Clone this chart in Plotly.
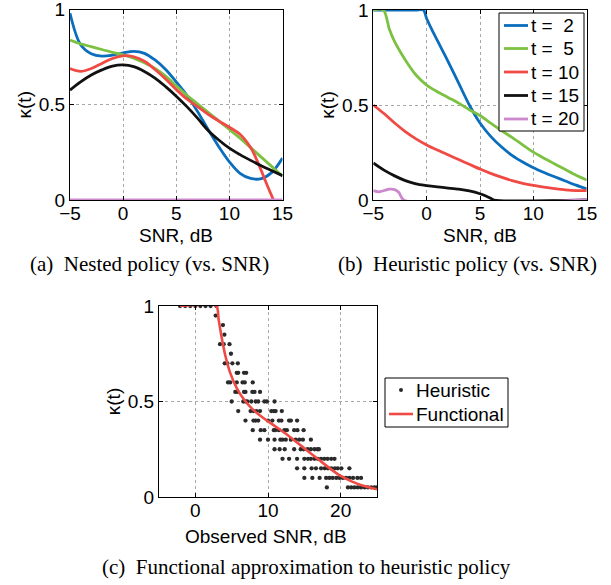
import plotly.graph_objects as go

# ---------------- Panel (a): nested policy vs SNR ----------------
snr_a = [-5, -4, -3, -2, -1, 0, 1, 2, 3, 4, 5, 6, 7, 8, 9, 10, 11, 12, 13, 14, 15]
nested_t2 = [0.98, 0.815, 0.768, 0.755, 0.76, 0.772, 0.78, 0.77, 0.735, 0.685, 0.62, 0.55,
             0.465, 0.37, 0.28, 0.2, 0.14, 0.113, 0.112, 0.145, 0.22]
nested_t5 = [0.84, 0.82, 0.805, 0.79, 0.775, 0.762, 0.745, 0.72, 0.69, 0.65, 0.6, 0.55,
             0.505, 0.46, 0.415, 0.37, 0.325, 0.275, 0.225, 0.175, 0.125]
snr_a_t10 = [-5, -4, -3, -2, -1, 0, 1, 2, 3, 4, 5, 6, 7, 8, 9, 10, 11, 12, 12.5, 13, 13.5, 14.15]
nested_t10 = [0.69, 0.675, 0.69, 0.717, 0.743, 0.757, 0.752, 0.728, 0.685, 0.635, 0.58, 0.53,
              0.49, 0.45, 0.415, 0.382, 0.345, 0.275, 0.22, 0.155, 0.085, 0.0]
nested_t15 = [0.577, 0.62, 0.656, 0.683, 0.703, 0.709, 0.7, 0.675, 0.64, 0.595, 0.545, 0.49,
              0.43, 0.365, 0.315, 0.272, 0.238, 0.208, 0.18, 0.154, 0.128]
nested_t20 = [0, 0, 0, 0, 0, 0, 0, 0, 0, 0, 0, 0, 0, 0, 0, 0, 0, 0, 0, 0, 0]

# ---------------- Panel (b): heuristic policy vs SNR ----------------
snr_b_t2 = [-5, -3, -1, -0.3, 0, 0.5, 1, 1.5, 2, 3, 4, 5, 6, 7, 8, 9, 10, 11, 12, 13, 14, 15]
heur_t2 = [1, 1, 1, 1, 0.955, 0.895, 0.84, 0.785, 0.73, 0.615, 0.5, 0.405, 0.335, 0.28,
           0.235, 0.2, 0.17, 0.145, 0.122, 0.1, 0.078, 0.058]
snr_b_t5 = [-5, -4.05, -3.5, -3, -2, -1, 0, 1, 2, 3, 4, 5, 6, 7, 8, 9, 10, 11, 12, 13, 14, 15]
heur_t5 = [1, 1, 0.9, 0.833, 0.737, 0.658, 0.605, 0.57, 0.54, 0.51, 0.475, 0.445, 0.405,
           0.365, 0.33, 0.29, 0.252, 0.22, 0.19, 0.16, 0.13, 0.105]
snr_b = [-5, -4, -3, -2, -1, 0, 1, 2, 3, 4, 5, 6, 7, 8, 9, 10, 11, 12, 13, 14, 15]
heur_t10 = [0.5, 0.455, 0.405, 0.36, 0.322, 0.29, 0.263, 0.238, 0.213, 0.188, 0.163, 0.14,
            0.12, 0.102, 0.088, 0.077, 0.068, 0.06, 0.053, 0.049, 0.05]
snr_b_t15 = [-5, -4, -3, -2, -1, 0, 1, 2, 3, 4, 5, 5.5, 6, 6.3, 15]
heur_t15 = [0.195, 0.157, 0.127, 0.102, 0.085, 0.076, 0.069, 0.063, 0.057, 0.048, 0.033,
            0.022, 0.009, 0.0, 0.0]
snr_b_t20 = [-5, -4.5, -4, -3.5, -3, -2.6, -2.15, 15]
heur_t20 = [0.049, 0.043, 0.05, 0.057, 0.055, 0.04, 0.0, 0.0]

legend_labels = ["t = \u00a02", "t = \u00a05", "t = 10", "t = 15", "t = 20"]
colors = ["#0A6EBD", "#7DC142", "#F04A45", "#111111", "#CC88CC"]

# ---------------- Panel (c): heuristic points + functional fit ----------------
heur_obs_snr = [
    -2.1, -1.4, -0.7, 0.0, 0.7, 1.4, 2.1, 2.9,
    2.8,
    3.8,
    4.0,
    3.4, 3.9, 4.7,
    4.9,
    4.05, 4.4, 5.1, 5.85,
    5.7, 5.9, 6.7, 7.0,
    4.5, 4.8, 5.7, 6.5, 6.8, 7.9,
    5.5, 5.8, 6.7, 6.9, 7.85, 8.15, 8.9,
    5.0, 6.6, 6.9, 7.15, 7.7, 8.3, 8.65, 9.5, 9.85, 10.9,
    5.9, 7.6, 8.0, 8.4, 8.9, 10.45, 10.8, 11.05, 11.9,
    6.9, 8.0, 8.3, 8.65, 10.0, 10.6, 11.5, 11.85, 12.9, 13.15, 14.0,
    7.9, 9.0, 9.5, 10.8, 11.0, 11.5, 12.25, 12.6, 13.6, 14.05, 14.9,
    8.9, 10.0, 10.9, 11.7, 12.0, 12.45, 13.15, 13.8, 14.3, 14.8, 15.9,
    10.9, 11.6, 12.3, 13.6, 14.5, 14.9, 15.45, 15.9, 16.4, 16.8, 17.0,
    12.0, 12.9, 14.0, 15.0, 15.5, 15.9, 16.4, 16.85, 17.3, 17.75, 18.2, 18.7, 19.15,
    14.0, 15.0, 16.0, 16.6, 17.3, 17.8, 18.25, 18.7, 19.2, 19.6, 20.1, 21.2,
    15.0, 16.1, 17.1, 18.0, 18.45, 18.9, 19.4, 19.85, 20.3, 20.75, 21.2, 21.7, 22.3, 22.8,
    18.1, 21.0, 21.45, 21.9, 22.35, 22.8, 23.3, 23.75, 24.2, 24.65, 25.0,
]
heur_obs_kappa = (
    [1.0] * 8 + [0.95] * 1 + [0.9] * 1 + [0.85] * 1 + [0.8] * 3 + [0.75] * 1 +
    [0.7] * 4 + [0.65] * 4 + [0.6] * 6 + [0.55] * 7 + [0.5] * 10 + [0.45] * 9 +
    [0.4] * 11 + [0.35] * 11 + [0.3] * 11 + [0.25] * 11 + [0.2] * 13 + [0.15] * 12 +
    [0.1] * 14 + [0.05] * 11
)
func_snr = [-2.1, 2.9, 3.2, 3.6, 4.1, 4.8, 5.7, 6.8, 8.0, 9.5, 11.0, 12.5, 14.0, 15.5,
            17.0, 18.5, 20.0, 21.5, 23.0, 25.0]
func_kappa = [1.0, 1.0, 0.93, 0.84, 0.745, 0.65, 0.57, 0.505, 0.455, 0.41, 0.37, 0.33,
              0.285, 0.24, 0.195, 0.15, 0.11, 0.082, 0.06, 0.04]
legend_c_labels = ["Heuristic", "Functional"]

W, H = 611, 585
SANS = "Liberation Sans, Arial, sans-serif"
SERIF = "Liberation Serif, Times New Roman, serif"
FS = 19
LW = 2.8
RED_C = "#F04A45"


def PX(px):
    return px / W


def PY(py):
    return 1 - py / H


fig = go.Figure()

# panel (a)
a_x = [snr_a, snr_a, snr_a_t10, snr_a, snr_a]
a_y = [nested_t2, nested_t5, nested_t10, nested_t15, nested_t20]
for i in range(5):
    fig.add_trace(go.Scatter(x=a_x[i], y=a_y[i], mode="lines", xaxis="x", yaxis="y",
                             name=legend_labels[i],
                             line=dict(color=colors[i], width=LW, shape="spline", smoothing=1.0),
                             showlegend=False, hoverinfo="skip"))

# panel (b)
b_x = [snr_b_t2, snr_b_t5, snr_b, snr_b_t15, snr_b_t20]
b_y = [heur_t2, heur_t5, heur_t10, heur_t15, heur_t20]
for i in range(5):
    fig.add_trace(go.Scatter(x=b_x[i], y=b_y[i], mode="lines", xaxis="x2", yaxis="y2",
                             name=legend_labels[i],
                             line=dict(color=colors[i], width=LW, shape="spline", smoothing=0.8),
                             showlegend=False, hoverinfo="skip"))

# panel (c)
fig.add_trace(go.Scatter(x=heur_obs_snr, y=heur_obs_kappa, mode="markers", xaxis="x3", yaxis="y3",
                         name=legend_c_labels[0], showlegend=False,
                         marker=dict(symbol="circle", size=4.3, color="#2a2a2a"),
                         hoverinfo="skip"))
fig.add_trace(go.Scatter(x=func_snr, y=func_kappa, mode="lines", xaxis="x3", yaxis="y3",
                         name=legend_c_labels[1], showlegend=False,
                         line=dict(color=RED_C, width=2.6, shape="spline", smoothing=0.6),
                         hoverinfo="skip"))

axis_common = dict(showline=True, linecolor="black", linewidth=1, mirror="ticks",
                   ticks="inside", ticklen=4, tickcolor="black", automargin=False,
                   ticklabeloverflow="allow",
                   showgrid=True, gridcolor="#a8a8a8", griddash="dot", gridwidth=1,
                   zeroline=False, tickfont=dict(family=SANS, size=FS, color="black"),
                   title_font=dict(family=SANS, size=FS, color="black"))
xaxis_extra = dict(ticklabelstandoff=-4)

fig.update_layout(
    width=W, height=H, margin=dict(l=0, r=0, t=0, b=0, autoexpand=False),
    paper_bgcolor="white", plot_bgcolor="white", showlegend=False,
    xaxis=dict(axis_common, **xaxis_extra, domain=[PX(70), PX(282.5)], range=[-5, 15],
               anchor="y", tickvals=[-5, 0, 5, 10, 15]),
    yaxis=dict(axis_common, domain=[PY(200), PY(9.5)], range=[0, 1], anchor="x",
               tickvals=[0, 0.5, 1], ticktext=["0", "0.5", "1"],
               title=dict(text="κ(t)", standoff=2)),
    xaxis2=dict(axis_common, **xaxis_extra, domain=[PX(373.3), PX(586.7)], range=[-5, 15],
                anchor="y2", tickvals=[-5, 0, 5, 10, 15]),
    yaxis2=dict(axis_common, domain=[PY(200), PY(10)], range=[0, 1], anchor="x2",
                tickvals=[0, 0.5, 1], ticktext=["0", "0.5", "1"],
                title=dict(text="κ(t)", standoff=2)),
    xaxis3=dict(axis_common, **xaxis_extra, domain=[PX(159), PX(377)], range=[-5, 25],
                anchor="y3", tickvals=[0, 10, 20]),
    yaxis3=dict(axis_common, domain=[PY(497), PY(306)], range=[0, 1], anchor="x3",
                tickvals=[0, 0.5, 1], ticktext=["0", "0.5", "1"],
                title=dict(text="κ(t)", standoff=2)),
)

# x-axis titles, placed as in the reference
for text, cx, cy in [("SNR, dB", 176, 235), ("SNR, dB", 480, 235),
                     ("Observed SNR, dB", 266, 536)]:
    fig.add_annotation(text=text, x=PX(cx), y=PY(cy), xref="paper", yref="paper",
                       xanchor="center", yanchor="middle", showarrow=False,
                       font=dict(family=SANS, size=FS, color="black"))

# ---- legend of panel (b): MATLAB-style box ----
fig.add_shape(type="rect", xref="paper", yref="paper", x0=PX(499), x1=PX(584),
              y0=PY(131), y1=PY(13), fillcolor="white", line=dict(color="black", width=1),
              layer="above")
leg_b_rows = [25.5, 48.5, 72, 95.5, 119]
for i in range(5):
    fig.add_shape(type="line", xref="paper", yref="paper", x0=PX(504), x1=PX(528),
                  y0=PY(leg_b_rows[i]), y1=PY(leg_b_rows[i]),
                  line=dict(color=colors[i], width=LW), layer="above")
    fig.add_annotation(text=legend_labels[i], x=PX(529), y=PY(leg_b_rows[i]),
                       xref="paper", yref="paper", xanchor="left", yanchor="middle",
                       showarrow=False, font=dict(family=SANS, size=FS, color="black"))

# ---- legend of panel (c) ----
fig.add_shape(type="rect", xref="paper", yref="paper", x0=PX(385), x1=PX(508),
              y0=PY(427), y1=PY(378), fillcolor="white", line=dict(color="black", width=1),
              layer="above")
fig.add_shape(type="circle", xref="paper", yref="paper", x0=PX(399), x1=PX(403),
              y0=PY(392), y1=PY(388), fillcolor="#2a2a2a", line=dict(width=0), layer="above")
fig.add_shape(type="line", xref="paper", yref="paper", x0=PX(389), x1=PX(413),
              y0=PY(414), y1=PY(414), line=dict(color=RED_C, width=2.6), layer="above")
for lbl, cy in zip(legend_c_labels, [390, 414]):
    fig.add_annotation(text=lbl, x=PX(414), y=PY(cy), xref="paper", yref="paper",
                       xanchor="left", yanchor="middle", showarrow=False,
                       font=dict(family=SANS, size=FS, color="black"))

captions = [
    ("(a)\u00a0 Nested policy (vs. SNR)", 149, 264),
    ("(b)\u00a0 Heuristic policy (vs. SNR)", 467, 264),
    ("(c)\u00a0 Functional approximation to heuristic policy", 306, 567),
]
for text, cx, cy in captions:
    fig.add_annotation(text=text, x=PX(cx), y=PY(cy), xref="paper", yref="paper",
                       xanchor="center", yanchor="middle", showarrow=False,
                       font=dict(family=SERIF, size=21, color="black"))

# the page is shown in a window of exactly the figure's size: drop the body margin
fig.write_html("out.html", config={"displayModeBar": False},
               post_script="document.body.style.margin='0px';")
